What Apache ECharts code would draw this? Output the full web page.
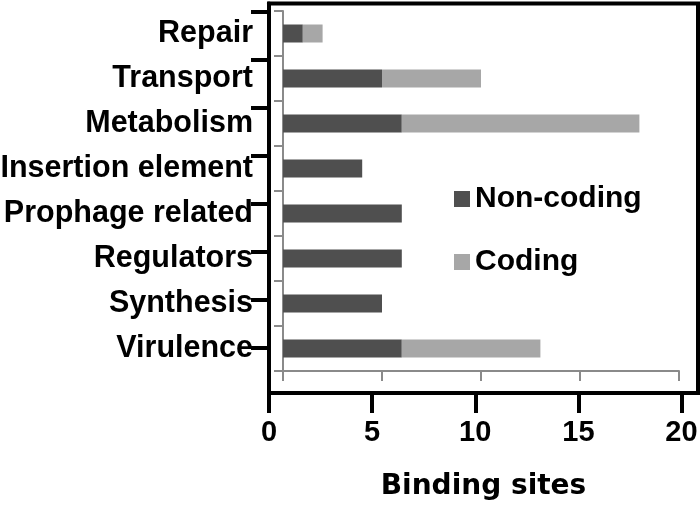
<!DOCTYPE html>
<html>
<head>
<meta charset="utf-8">
<script src="https://cdn.jsdelivr.net/npm/echarts@6/dist/echarts.min.js"></script>
<style>
  html, body { margin: 0; padding: 0; background: #fff; }
  #chart { width: 700px; height: 507px; }
</style>
</head>
<body>
<div id="chart"></div>
<script>
const categories = ['Repair', 'Transport', 'Metabolism', 'Insertion element', 'Prophage related', 'Regulators', 'Synthesis', 'Virulence']
const nonCoding = [1, 5, 6, 4, 6, 6, 5, 6]
const coding = [1, 5, 12, 0, 0, 0, 0, 7]
const xTicks = [0, 5, 10, 15, 20]
const frameTicks = [0, 1, 2, 3, 4, 5, 6, 7]

const font = "'Liberation Sans', Arial, sans-serif"
const black = '#000'
const grey = '#8a8a8a'

const chart = echarts.init(document.getElementById('chart'))

const option = {
  animation: false,
  grid: [
    // outer black frame
    { left: 269, right: 2, top: 3.5, bottom: 114, show: true, borderColor: black, borderWidth: 4, backgroundColor: 'transparent', outerBoundsMode: 'none' },
    // inner plot area
    { left: 283, right: 21, top: 11, bottom: 136, outerBoundsMode: 'none' }
  ],
  xAxis: [
    {
      gridIndex: 0,
      type: 'value',
      min: 0,
      max: 20.8,
      axisLine: { show: true, onZero: false, lineStyle: { color: black, width: 4 } },
      axisTick: { show: true, customValues: xTicks, length: 20, lineStyle: { color: black, width: 4 } },
      axisLabel: { customValues: xTicks, margin: 25, fontSize: 29, fontWeight: 'bold', color: black, fontFamily: font },
      splitLine: { show: false },
      name: 'Binding sites',
      nameLocation: 'middle',
      nameGap: 80,
      nameTextStyle: { fontSize: 28, fontWeight: 'bold', color: black, fontFamily: "'DejaVu Sans', sans-serif" }
    },
    {
      gridIndex: 1,
      type: 'value',
      min: 0,
      max: 20,
      interval: 5,
      axisLine: { show: true, lineStyle: { color: grey, width: 2 } },
      axisTick: { show: true, length: 10, lineStyle: { color: grey, width: 2 } },
      axisLabel: { show: false },
      splitLine: { show: false }
    }
  ],
  yAxis: [
    {
      gridIndex: 0,
      type: 'value',
      inverse: true,
      min: -0.18,
      max: 7.94,
      axisLine: { show: true, onZero: false, lineStyle: { color: black, width: 4 } },
      axisTick: { show: true, customValues: frameTicks, length: 18, lineStyle: { color: black, width: 4 } },
      axisLabel: { show: false },
      splitLine: { show: false }
    },
    {
      gridIndex: 1,
      type: 'category',
      inverse: true,
      data: categories,
      axisLine: { show: true, lineStyle: { color: grey, width: 2 } },
      axisTick: { show: true, length: 9, lineStyle: { color: grey, width: 2 } },
      axisLabel: { margin: 30, fontSize: 30.5, fontWeight: 'bold', color: black, fontFamily: font }
    }
  ],
  legend: {
    data: ['Non-coding', 'Coding'],
    orient: 'vertical',
    left: 449,
    top: 179,
    icon: 'rect',
    itemWidth: 16,
    itemHeight: 16,
    itemGap: 33,
    itemTextGap: 8,
    textStyle: { fontSize: 30, fontWeight: 'bold', color: black, fontFamily: font }
  },
  series: [
    {
      name: 'Non-coding',
      type: 'bar',
      xAxisIndex: 1,
      yAxisIndex: 1,
      stack: 'sites',
      barWidth: 18,
      itemStyle: { color: '#4f4f4f' },
      data: nonCoding
    },
    {
      name: 'Coding',
      type: 'bar',
      xAxisIndex: 1,
      yAxisIndex: 1,
      stack: 'sites',
      barWidth: 18,
      itemStyle: { color: '#a7a7a7' },
      data: coding
    }
  ]
}

chart.setOption(option)
</script>
</body>
</html>
